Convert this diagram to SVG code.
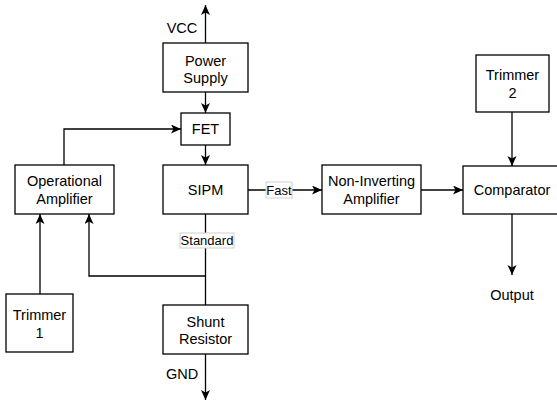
<svg xmlns="http://www.w3.org/2000/svg" width="557" height="403" viewBox="0 0 557 403">
<style>
.box{fill:#fff;stroke:#000;stroke-width:1.3}
.t{font-family:"Liberation Sans",Arial,sans-serif;font-size:14.5px;fill:#000;text-anchor:middle}
.lbl{font-family:"Liberation Sans",Arial,sans-serif;font-size:13px;fill:#000;text-anchor:middle}
.lblbox{fill:#fff;stroke:#d0d0d0;stroke-width:1}
.e{fill:none;stroke:#000;stroke-width:1.3}
.ea{fill:none;stroke:#000;stroke-width:1.3;marker-end:url(#arr)}
</style>
<defs>
<marker id="arr" markerUnits="userSpaceOnUse" markerWidth="12" markerHeight="10" refX="10" refY="4.5" orient="auto">
<path d="M0,0 L10,4.5 L0,9 L2.5,4.5 Z" fill="#000"/>
</marker>
</defs>
<g id="connectors">
<path class="ea" d="M205.5,43 V5"/>
<path class="ea" d="M205.5,92 V113"/>
<path class="ea" d="M205.5,145 V165"/>
<path class="ea" d="M64,165 V129 H181"/>
<path class="e" d="M205.5,214 V305"/>
<path class="ea" d="M205.5,276 H89 V214"/>
<path class="ea" d="M40,294 V214"/>
<path class="ea" d="M205.5,354 V400"/>
<path class="ea" d="M248,190 H322"/>
<path class="ea" d="M421,190 H463"/>
<path class="ea" d="M512,112 V166"/>
<path class="ea" d="M512,214 V275"/>
<rect class="lblbox" x="180" y="233" width="54" height="15"/>
<text class="lbl" x="207" y="245">Standard</text>
<rect class="lblbox" x="266" y="182" width="26" height="16"/>
<text class="lbl" x="279" y="194.5">Fast</text>
<text class="t" x="182" y="33">VCC</text>
<text class="t" x="182" y="379">GND</text>
<text class="t" x="512" y="300">Output</text>
</g>
<g id="power-supply">
<rect class="box" x="163" y="43" width="85" height="49"/>
<text class="t" x="205.5" y="66">Power</text>
<text class="t" x="205.5" y="83">Supply</text>
</g>
<g id="fet">
<rect class="box" x="181" y="113" width="49" height="32"/>
<text class="t" x="205.5" y="134">FET</text>
</g>
<g id="sipm">
<rect class="box" x="163" y="165" width="85" height="49"/>
<text class="t" x="205.5" y="194.5">SIPM</text>
</g>
<g id="op-amp">
<rect class="box" x="15" y="165" width="99" height="49"/>
<text class="t" x="64.5" y="186">Operational</text>
<text class="t" x="64.5" y="204">Amplifier</text>
</g>
<g id="trimmer1">
<rect class="box" x="6" y="294" width="67" height="58"/>
<text class="t" x="39.5" y="320">Trimmer</text>
<text class="t" x="39.5" y="338">1</text>
</g>
<g id="shunt">
<rect class="box" x="163" y="305" width="85" height="49"/>
<text class="t" x="205.5" y="327">Shunt</text>
<text class="t" x="205.5" y="344">Resistor</text>
</g>
<g id="non-inv">
<rect class="box" x="322" y="165" width="99" height="49"/>
<text class="t" x="371.5" y="186">Non-Inverting</text>
<text class="t" x="371.5" y="204">Amplifier</text>
</g>
<g id="trimmer2">
<rect class="box" x="476" y="55" width="73" height="57"/>
<text class="t" x="512.5" y="80">Trimmer</text>
<text class="t" x="512.5" y="98">2</text>
</g>
<g id="comparator">
<rect class="box" x="463" y="166" width="99" height="48"/>
<text class="t" x="512" y="195">Comparator</text>
</g>
</svg>
